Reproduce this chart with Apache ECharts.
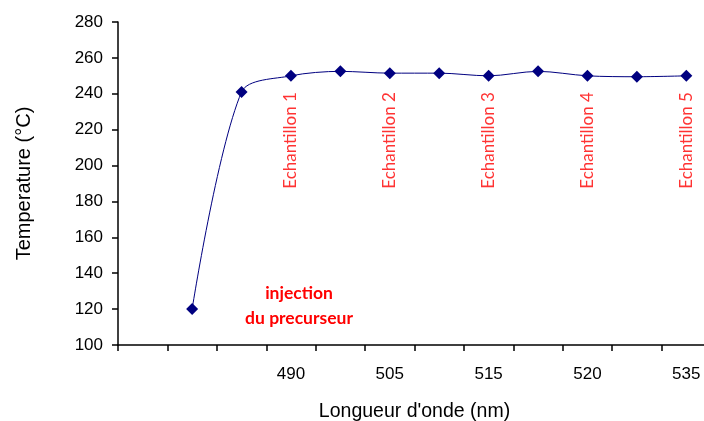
<!DOCTYPE html>
<html>
<head>
<meta charset="utf-8">
<script src="https://cdn.jsdelivr.net/npm/echarts@6/dist/echarts.min.js"></script>
<style>
	body { margin: 0; background: #fff; }
	#chart { width: 704px; height: 421px; }
</style>
</head>
<body>
<div id="chart"></div>
<script>
// données
var categories = ['', '', '', '490', '', '505', '', '515', '', '520', '', '535']
var temperatures = [null, 120, 241, 250, 252.5, 251.5, 251.5, 250, 252.5, 250, 249.5, 250]
var yTicks = [100, 120, 140, 160, 180, 200, 220, 240, 260, 280]
var sampleIndex = [3, 5, 7, 9, 11]
var sampleNames = ['Echantillon 1', 'Echantillon 2', 'Echantillon 3', 'Echantillon 4', 'Echantillon 5']

var axisFont = 'Liberation Sans, Arial, sans-serif'
var noteFont = 'Lato, Noto Sans, sans-serif'

// points des étiquettes échantillon (hauteur du texte)
var sampleData = []
for (let i = 0; i < sampleIndex.length; i++) {
	sampleData.push({ value: [sampleIndex[i], 214], name: sampleNames[i] })
}

var chart = echarts.init(document.getElementById('chart'))

var option = {
	backgroundColor: '#fff',
	animation: false,
	grid: {
		left: 118,
		top: 22,
		right: -7,
		bottom: 76,
		outerBoundsMode: 'none'
	},
	xAxis: {
		type: 'category',
		data: categories,
		boundaryGap: true,
		name: "Longueur d'onde (nm)",
		nameLocation: 'middle',
		nameGap: 57,
		nameTextStyle: { color: '#000', fontSize: 19.5, fontFamily: axisFont },
		axisLine: { lineStyle: { color: '#000', width: 1.5 } },
		axisTick: { show: true, interval: 0, length: 6, lineStyle: { color: '#000', width: 1.5 } },
		axisLabel: { interval: 0, margin: 21, color: '#000', fontSize: 17, fontFamily: axisFont },
		splitLine: { show: false }
	},
	yAxis: {
		type: 'value',
		min: yTicks[0],
		max: yTicks[yTicks.length - 1],
		interval: 20,
		name: 'Temperature (°C)',
		nameLocation: 'middle',
		nameGap: 84,
		nameTextStyle: { color: '#000', fontSize: 20, fontFamily: axisFont },
		axisLine: { show: true, lineStyle: { color: '#000', width: 1.5 } },
		axisTick: { show: true, length: 6, lineStyle: { color: '#000', width: 1.5 } },
		axisLabel: { margin: 15, color: '#000', fontSize: 17, fontFamily: axisFont },
		splitLine: { show: false }
	},
	series: [
		{
			type: 'line',
			data: temperatures,
			smooth: 0.3,
			symbol: 'diamond',
			symbolSize: 12,
			showAllSymbol: true,
			lineStyle: { color: '#000080', width: 1 },
			itemStyle: { color: '#000080' }
		},
		{
			type: 'scatter',
			data: sampleData,
			symbolSize: 0,
			silent: true,
			label: {
				show: true,
				position: 'inside',
				rotate: 90,
				formatter: function(p) {
					return p.name
				},
				color: '#ff0000',
				fontSize: 17,
				fontFamily: noteFont
			}
		}
	],
	graphic: [
		{
			type: 'text',
			x: 299,
			y: 281,
			style: {
				text: 'injection\ndu precurseur',
				textAlign: 'center',
				textVerticalAlign: 'top',
				fill: '#ff0000',
				font: 'bold 17.5px ' + noteFont,
				lineHeight: 25
			}
		}
	]
}

chart.setOption(option)
</script>
</body>
</html>
